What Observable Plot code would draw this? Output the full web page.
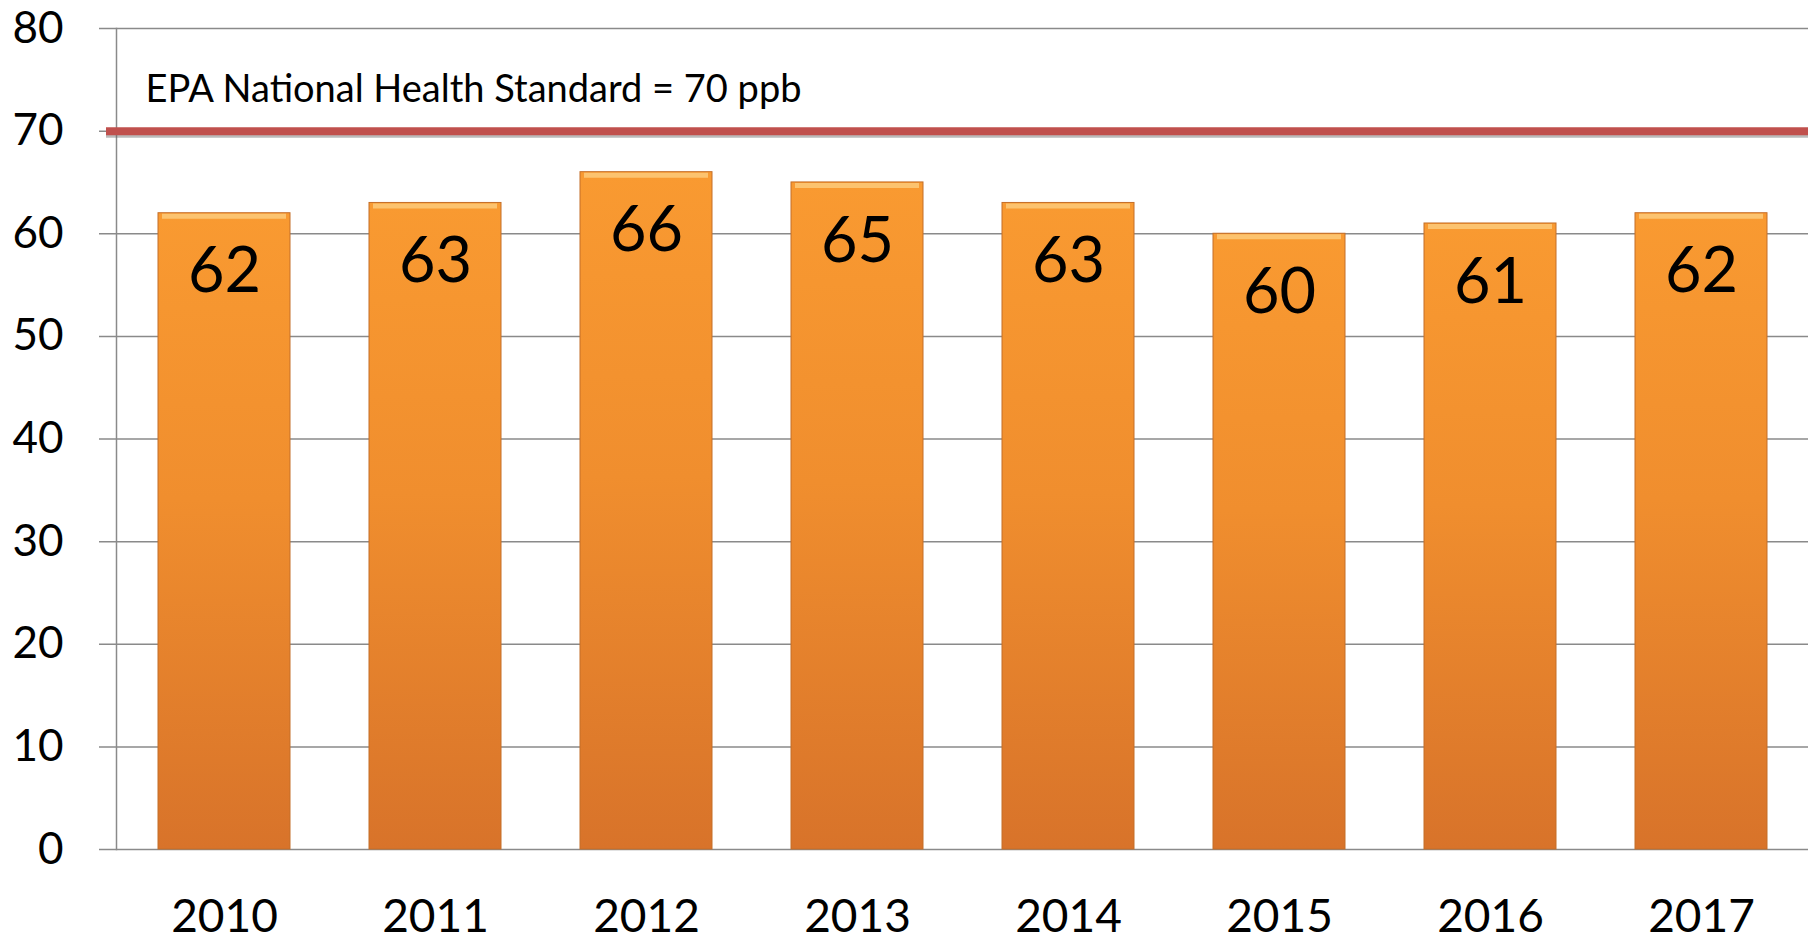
<!DOCTYPE html>
<html>
<head>
<meta charset="utf-8">
<script src="https://cdn.jsdelivr.net/npm/d3@7"></script>
<script src="https://cdn.jsdelivr.net/npm/@observablehq/plot@0.6"></script>
<style>
  html, body { margin: 0; padding: 0; background: white; }
</style>
</head>
<body>
<div id="chart"></div>
<script>
const years = ["2010", "2011", "2012", "2013", "2014", "2015", "2016", "2017"];
const values = [62, 63, 66, 65, 63, 60, 61, 62];
const yTicks = [0, 10, 20, 30, 40, 50, 60, 70, 80];
const standard = 70;
const standardLabel = "EPA National Health Standard = 70 ppb";

const data = years.map((year, i) => ({year, value: values[i]}));

const chart = Plot.plot({
  width: 1815,
  height: 941,
  marginLeft: 116,
  marginRight: 7,
  marginTop: 28,
  marginBottom: 92,
  style: {fontFamily: "Lato, 'Open Sans', sans-serif", background: "white", color: "black"},
  x: {domain: years, paddingInner: 0.376, paddingOuter: 0.188, label: null},
  y: {domain: [0, 80], label: null},
  marks: [
    Plot.ruleY(yTicks, {stroke: "#8a8a8a", strokeWidth: 1.5, insetLeft: -17}),
    Plot.frame({anchor: "left", stroke: "#8a8a8a", strokeWidth: 1.5}),
    Plot.barY(data, {x: "year", y: "value", fill: "url(#barGrad)", stroke: "#c46e28", strokeWidth: 1}),
    Plot.tickY(data, {x: "year", y: "value", stroke: "#fcc36f", strokeWidth: 5, dy: 3, insetLeft: 4, insetRight: 4}),
    Plot.text(data, {x: "year", y: "value", text: d => String(d.value), dy: 59, fontSize: 63, fill: "black"}),
    Plot.ruleY([standard], {stroke: "#666", strokeOpacity: 0.45, strokeWidth: 3, dy: 5, insetLeft: -10}),
    Plot.ruleY([standard], {stroke: "#c0504d", strokeWidth: 8, insetLeft: -10}),
    Plot.text([standardLabel], {y: () => standard, text: d => d, frameAnchor: "left", textAnchor: "start", lineAnchor: "bottom", dx: 29, dy: -29, fontSize: 38, fill: "black"}),
    Plot.axisY(yTicks, {tickSize: 0, tickPadding: 53, fontSize: 44, label: null}),
    Plot.axisX({tickSize: 0, tickPadding: 50, fontSize: 46, label: null})
  ]
});

const svg = d3.select(chart);
const defs = svg.insert("defs", ":first-child");
const grad = defs.append("linearGradient")
  .attr("id", "barGrad")
  .attr("x1", 0).attr("y1", 0).attr("x2", 0).attr("y2", 1);
grad.append("stop").attr("offset", "0%").attr("stop-color", "#f99a31");
grad.append("stop").attr("offset", "45%").attr("stop-color", "#f08e2e");
grad.append("stop").attr("offset", "100%").attr("stop-color", "#d8732a");

document.getElementById("chart").appendChild(chart);
</script>
</body>
</html>
